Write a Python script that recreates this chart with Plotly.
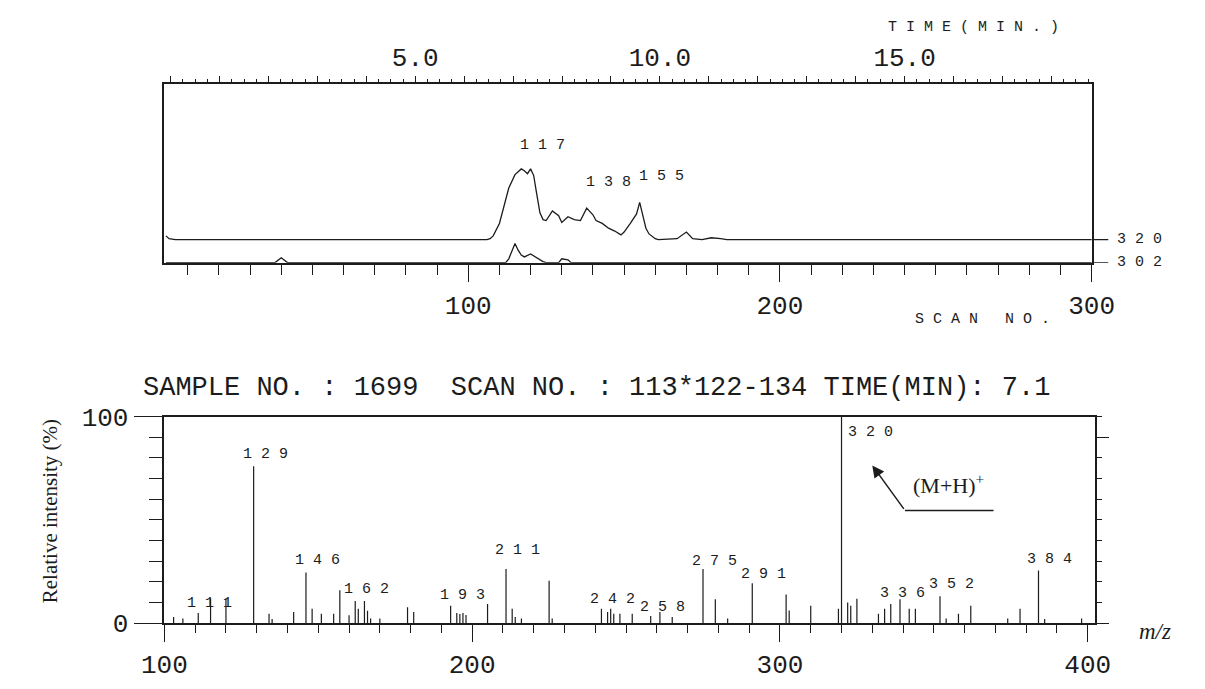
import plotly.graph_objects as go

# ---- Ion chromatograms (scan number vs. intensity, arbitrary units) ----
scan_320 = [3, 4, 6, 106, 107, 108, 110, 111, 113, 115, 117, 118, 119, 120, 121, 122,
            123, 124, 125, 127, 129, 130, 132, 134, 136, 138, 140, 141, 143, 145, 147,
            149, 150, 152, 154, 155, 156, 157, 158, 160, 161, 167, 170, 172, 175, 178,
            181, 183, 300]
int_320 = [4, 1, 0, 0, 1, 4, 17, 30, 54, 68, 74, 72, 69, 74, 67, 47,
           28, 21, 20, 30, 25, 18, 24, 21, 20, 33, 26, 20, 17, 12, 9,
           5, 8, 17, 27, 39, 24, 12, 6, 1, 0, 1, 8, 1, 0, 2,
           1, 0, 0]

scan_302 = [3, 38, 40, 42, 112, 113, 115, 116, 117, 118, 120, 121, 122, 124, 125,
            129, 130, 132, 133, 300]
int_302 = [0, 0, 5, 0, 0, 4, 20, 13, 8, 6, 9, 7, 5, 1, 0,
           0, 4, 3, 0, 0]

peak_scans = [117, 138, 155]
peak_label_y = [122, 84, 90]

# ---- Mass spectrum (m/z vs. relative intensity %) ----
mz = [103, 106, 111, 115, 120, 129, 134, 135, 142, 146, 148, 151, 155, 157, 160, 162,
      163, 165, 166, 167, 170, 179, 181, 193, 195, 196, 197, 198, 205, 211, 213, 214,
      216, 225, 226, 242, 244, 245, 246, 248, 252, 258, 261, 265, 275, 279, 283, 291,
      302, 303, 310, 319, 320, 322, 323, 325, 332, 334, 336, 339, 342, 344, 352, 354,
      358, 362, 374, 378, 384, 386, 398]
rel_int = [3, 2.3, 5, 12, 12, 76, 4.6, 2, 5.4, 24.5, 7, 4.6, 4.6, 16, 3.9, 10.8,
           7, 10.8, 6, 2.3, 2.3, 7.7, 5.4, 8.5, 5, 4.5, 5, 4, 9.3, 26.2, 7, 3,
           2.3, 20.5, 2.3, 7, 5.4, 7, 4.6, 4.6, 4.6, 3.5, 5.4, 3, 26.2, 11.6, 2.3, 19.3,
           13.9, 6.2, 8.5, 7, 100, 10, 8.5, 11.9, 4.6, 7, 9.3, 11.6, 7, 7, 13.1, 2.3,
           4.6, 8.5, 2.3, 7, 25.5, 2, 2.3]

labeled_mz = [111, 129, 146, 162, 193, 211, 242, 258, 275, 291, 320, 336, 352, 384]
label_y = [9.5, 81.5, 30.6, 16.2, 13.4, 35.2, 11.6, 7.4, 30.1, 23.6, 92.1, 14.4, 18.5, 31]

INK = "#1c1c1c"
MONO = "Liberation Mono"
SERIF = "Liberation Serif"
OFFSET_320 = 24                    # the m/z 320 trace sits above the m/z 302 trace
SCAN0, SCANS_PER_MIN = 4.5, 15.7   # scan number <-> retention time

fig = go.Figure()

fig.add_trace(go.Scatter(x=scan_320, y=[v + OFFSET_320 for v in int_320],
                         mode="lines", line=dict(color=INK, width=1.3),
                         xaxis="x", yaxis="y", hoverinfo="skip"))
fig.add_trace(go.Scatter(x=scan_302, y=int_302,
                         mode="lines", line=dict(color=INK, width=1.3),
                         xaxis="x", yaxis="y", hoverinfo="skip"))
# keeps the time axis alive
fig.add_trace(go.Scatter(x=[None], y=[None], xaxis="x2", yaxis="y", showlegend=False))

# stick spectrum
xs, ys = [], []
for m, v in zip(mz, rel_int):
    xs += [m, m, None]
    ys += [0, v, None]
fig.add_trace(go.Scatter(x=xs, y=ys, mode="lines", line=dict(color=INK, width=1.2),
                         xaxis="x3", yaxis="y3", hoverinfo="skip"))
fig.add_trace(go.Scatter(x=[None], y=[None], xaxis="x3", yaxis="y4", showlegend=False))

tick_font = dict(family=MONO, size=26, color=INK)
small_font = dict(family=MONO, size=15, color=INK)

top_x = [147 / 1205, 1111 / 1205]
top_y = [1 - 261 / 689, 1 - 74 / 689]
bot_x = [147 / 1205, 1115 / 1205]
bot_y = [1 - 638 / 689, 1 - 422 / 689]

scan_range = [2.5, 300]
time_range = [(s - SCAN0) / SCANS_PER_MIN for s in scan_range]
time_vals = list(range(0, 19))
time_text = [f"{t:.1f}" if t in (5, 10, 15) else "" for t in time_vals]

fig.update_layout(
    width=1205, height=689,
    margin=dict(l=0, r=0, t=0, b=0),
    paper_bgcolor="white", plot_bgcolor="white",
    showlegend=False,
    xaxis=dict(domain=top_x, anchor="y", range=scan_range,
               showline=True, linecolor=INK, linewidth=1.5,
               ticks="outside", tickcolor=INK, tickwidth=1.3, ticklen=18,
               tick0=0, dtick=100, tickfont=tick_font,
               minor=dict(ticks="outside", tickmode="linear", tick0=0, dtick=10,
                          ticklen=11, tickcolor=INK, tickwidth=1.3),
               showgrid=False, zeroline=False, fixedrange=True),
    xaxis2=dict(overlaying="x", side="top", anchor="y", range=time_range,
                showline=True, linecolor=INK, linewidth=1.5,
                ticks="outside", tickcolor=INK, tickwidth=1.2, ticklen=6,
                tickmode="array", tickvals=time_vals, ticktext=time_text,
                tickfont=tick_font,
                minor=dict(ticks="outside", tickmode="linear", tick0=0, dtick=0.25,
                           ticklen=3, tickcolor=INK, tickwidth=1),
                showgrid=False, zeroline=False, fixedrange=True),
    yaxis=dict(domain=top_y, anchor="x", range=[0, 187],
               showline=True, mirror=True, linecolor=INK, linewidth=1.5,
               showticklabels=False, ticks="", showgrid=False, zeroline=False,
               fixedrange=True),
    xaxis3=dict(domain=bot_x, anchor="y3", range=[100, 402.5],
                showline=True, mirror=True, linecolor=INK, linewidth=1.5,
                ticks="outside", tickcolor=INK, tickwidth=1.3, ticklen=17,
                tick0=0, dtick=100, tickfont=tick_font,
                minor=dict(ticks="outside", tickmode="linear", tick0=0, dtick=10,
                           ticklen=8, tickcolor=INK, tickwidth=1.3),
                showgrid=False, zeroline=False, fixedrange=True),
    yaxis3=dict(domain=bot_y, anchor="x3", range=[0, 100],
                showline=True, linecolor=INK, linewidth=1.5,
                ticks="outside", tickcolor=INK, tickwidth=1.3, ticklen=29,
                tickmode="array", tickvals=[0, 100], ticktext=["0", "100"],
                tickfont=tick_font,
                minor=dict(ticks="outside", tickmode="linear", tick0=0, dtick=10,
                           ticklen=14, tickcolor=INK, tickwidth=1.3),
                showgrid=False, zeroline=False, fixedrange=True),
    yaxis4=dict(overlaying="y3", side="right", anchor="x3", range=[0, 100],
                showline=True, linecolor=INK, linewidth=1.5,
                ticks="outside", tickcolor=INK, tickwidth=1.3, ticklen=12,
                tickmode="array", tickvals=[0, 90], showticklabels=False,
                minor=dict(ticks="outside", tickmode="linear", tick0=0, dtick=10,
                           ticklen=5, tickcolor=INK, tickwidth=1.3),
                showgrid=False, zeroline=False, fixedrange=True),
)


def note(x, y, text, xref="paper", yref="paper", xanchor="center", yanchor="middle",
         font=small_font, **kw):
    return dict(x=x, y=y, xref=xref, yref=yref, text=text, showarrow=False,
                xanchor=xanchor, yanchor=yanchor, font=font, **kw)


ann = []
# chromatogram peak labels
for s, yl in zip(peak_scans, peak_label_y):
    ann.append(note(s, yl, " ".join(str(s)), xref="x", yref="y",
                    xanchor="left", xshift=-3))
# trace names at the right end
for name, yv in (("320", OFFSET_320), ("302", 0)):
    ann.append(note(1135 / 1205, yv, " ".join(name), yref="y", xanchor="left"))
ann.append(note(988 / 1205, 1 - 15 / 689, "T I M E ( M I N . )"))
ann.append(note(998 / 1205, 1 - 320 / 689, "S C A N   N O ."))

# spectrum header
ann.append(note(596 / 1205, 1 - 392 / 689,
                "SAMPLE NO. : 1699  SCAN NO. : 113*122-134 TIME(MIN): 7.1",
                font=dict(family=MONO, size=27, color=INK)))
# spectrum peak labels
for m, yl in zip(labeled_mz, label_y):
    ann.append(note(m, yl, " ".join(str(m)), xref="x3", yref="y3", xanchor="left",
                    xshift=4 if m == 320 else -13))

# axis titles
ann.append(note(28 / 1205, 1 - 521 / 689, "Relative intensity (%)", textangle=-90,
                font=dict(family=SERIF, size=21, color=INK)))
ann.append(note(1177 / 1205, 1 - 647 / 689, "<i>m/z</i>",
                font=dict(family=SERIF, size=23, color=INK)))

# molecular ion callout
ann.append(note(354.7, 67.6, "(M+H)<sup>+</sup>", xref="x3", yref="y3",
                font=dict(family=SERIF, size=22, color=INK)))
ann.append(dict(x=330, y=76.4, xref="x3", yref="y3", ax=340.6, ay=54.6,
                axref="x3", ayref="y3", text="", showarrow=True,
                arrowhead=2, arrowsize=1.6, arrowwidth=1.5, arrowcolor=INK))
fig.update_layout(annotations=ann)

shapes = [
    dict(type="line", xref="x3", yref="y3", x0=340.6, x1=369.4, y0=54.6, y1=54.6,
         line=dict(color=INK, width=1.5)),
    dict(type="line", xref="x domain", yref="y", x0=1.0, x1=1.018,
         y0=OFFSET_320, y1=OFFSET_320, line=dict(color=INK, width=1.3)),
    dict(type="line", xref="x domain", yref="y", x0=1.0, x1=1.018,
         y0=0, y1=0, line=dict(color=INK, width=1.3)),
]
fig.update_layout(shapes=shapes)

fig.write_html("out.html")
